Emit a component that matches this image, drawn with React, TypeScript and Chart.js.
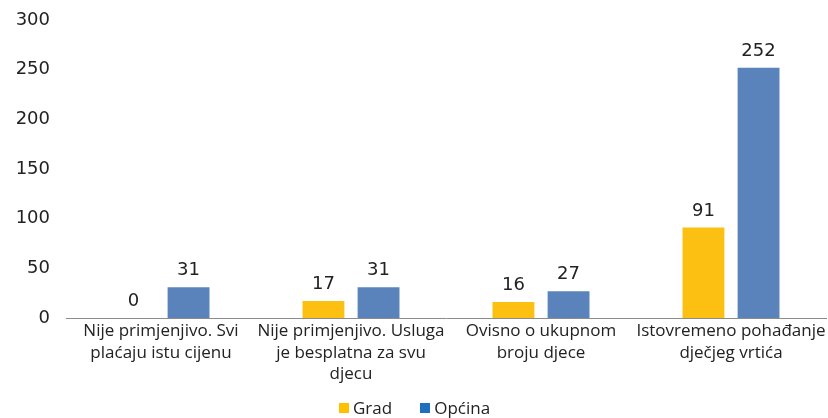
import React, { useEffect, useRef } from "react";
import { Chart, registerables } from "chart.js";

Chart.register(...registerables);

const categories: string[][] = [
  ["Nije primjenjivo. Svi", "plaćaju istu cijenu"],
  ["Nije primjenjivo. Usluga", "je besplatna za svu", "djecu"],
  ["Ovisno o ukupnom", "broju djece"],
  ["Istovremeno pohađanje", "dječjeg vrtića"],
];
const gradValues = [0, 17, 16, 91];
const opcinaValues = [31, 31, 27, 252];
const yTicks = [0, 50, 100, 150, 200, 250, 300];
const seriesNames = ["Grad", "Općina"];
const barColors = ["#FBC012", "#5A83BB"];
const legendColors = ["#FFC000", "#1F6FBF"];

const FONT = "'Open Sans', 'Noto Sans', sans-serif";
const NUMFONT = "'DejaVu Sans', 'Open Sans', sans-serif";
const TEXT = "#222222";

const dataLabels = {
  id: "dataLabels",
  afterDatasetsDraw(chart: any) {
    const ctx = chart.ctx;
    ctx.save();
    ctx.font = `18px ${NUMFONT}`;
    ctx.fillStyle = TEXT;
    ctx.textAlign = "center";
    ctx.textBaseline = "alphabetic";
    chart.data.datasets.forEach((ds: any, i: number) => {
      const meta = chart.getDatasetMeta(i);
      meta.data.forEach((bar: any, j: number) => {
        ctx.fillText(String(ds.data[j]), bar.x, bar.y - 12);
      });
    });
    ctx.restore();
  },
};

export default function App() {
  const ref = useRef<HTMLCanvasElement>(null);
  useEffect(() => {
    document.body.style.margin = "0";
    const chart = new Chart(ref.current!, {
      type: "bar",
      data: {
        labels: categories,
        datasets: [
          {
            label: seriesNames[0],
            data: gradValues,
            backgroundColor: barColors[0],
            categoryPercentage: 0.58,
            barPercentage: 0.76,
          },
          {
            label: seriesNames[1],
            data: opcinaValues,
            backgroundColor: barColors[1],
            categoryPercentage: 0.58,
            barPercentage: 0.76,
          },
        ],
      },
      options: {
        animation: false,
        responsive: false,
        maintainAspectRatio: false,
        layout: { padding: { top: 20, right: 2, left: 0, bottom: 0 } },
        scales: {
          x: {
            grid: { display: false, drawTicks: false },
            border: { display: true, color: "#8c8c8c", width: 1 },
            ticks: {
              color: TEXT,
              font: { family: FONT, size: 17, lineHeight: 1.25 },
              maxRotation: 0,
              autoSkip: false,
              padding: 3,
            },
            afterFit: (axis: any) => {
              axis.height = 100;
              axis.paddingLeft = 0;
              axis.paddingRight = 0;
            },
          },
          y: {
            min: 0,
            max: 300,
            afterBuildTicks: (axis: any) => {
              axis.ticks = yTicks.map((v) => ({ value: v }));
            },
            afterFit: (axis: any) => {
              axis.width = 66;
              axis.paddingTop = 0;
              axis.paddingBottom = 0;
            },
            grid: { display: false, drawTicks: false },
            border: { display: false },
            ticks: {
              color: TEXT,
              font: { family: NUMFONT, size: 18 },
              padding: 16,
            },
          },
        },
        plugins: {
          legend: { display: false },
          tooltip: { enabled: false },
        },
      },
      plugins: [dataLabels],
    });
    return () => chart.destroy();
  }, []);
  return (
    <div style={{ width: 828, height: 418, position: "relative" }}>
      <canvas ref={ref} width={828} height={418} />
      <div
        style={{
          position: "absolute",
          left: 339,
          top: 397,
          display: "flex",
          alignItems: "center",
          fontFamily: FONT,
          fontSize: 17,
          lineHeight: "22px",
          color: TEXT,
          whiteSpace: "nowrap",
        }}
      >
        {seriesNames.map((name, i) => (
          <span
            key={name}
            style={{ display: "flex", alignItems: "center", marginRight: i === 0 ? 28 : 0 }}
          >
            <span
              style={{
                display: "inline-block",
                width: 10,
                height: 10,
                background: legendColors[i],
                marginRight: 4,
              }}
            />
            {name}
          </span>
        ))}
      </div>
    </div>
  );
}
